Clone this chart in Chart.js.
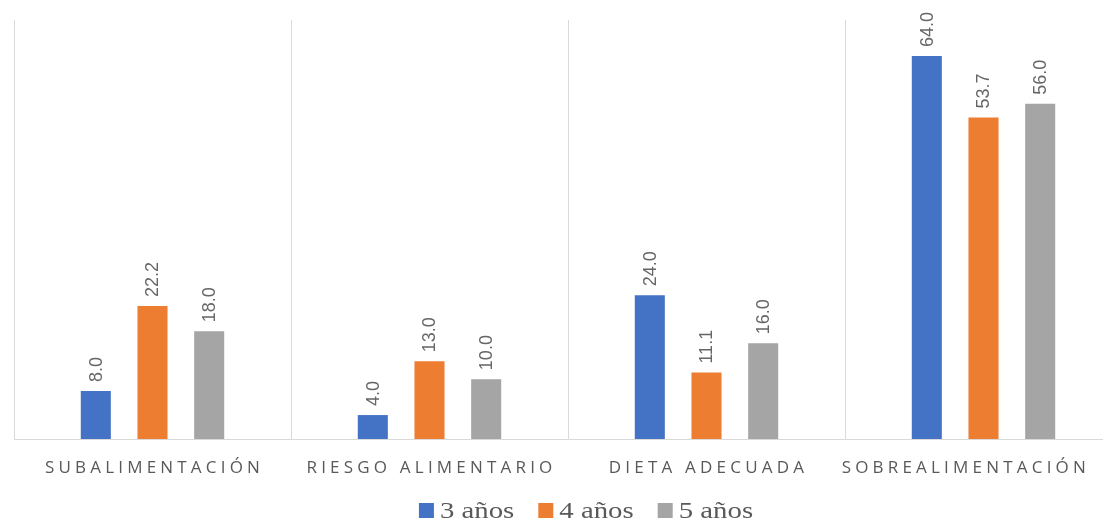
<!DOCTYPE html>
<html>
<head>
<meta charset="utf-8">
<script src="https://cdn.jsdelivr.net/npm/chart.js@4.4.1/dist/chart.umd.min.js"></script>
<style>
  html, body { margin: 0; padding: 0; background: #fff; overflow: hidden; }
  #wrap { width: 1103px; height: 522px; overflow: hidden; }
  #box { width: 1172px; height: 522px; position: relative; }
</style>
</head>
<body>
<div id="wrap"><div id="box"><canvas id="chart"></canvas></div></div>
<script>
const categories = ["SUBALIMENTACIÓN", "RIESGO ALIMENTARIO", "DIETA ADECUADA", "SOBREALIMENTACIÓN"];
const seriesNames = ["3 años", "4 años", "5 años"];
const age3 = [8.0, 4.0, 24.0, 64.0];
const age4 = [22.2, 13.0, 11.1, 53.7];
const age5 = [18.0, 10.0, 16.0, 56.0];
const colors = ["#4472C4", "#ED7D31", "#A5A5A5"];

// rotated value labels above each bar
const valueLabels = {
  id: "valueLabels",
  afterDatasetsDraw(chart) {
    const ctx = chart.ctx;
    ctx.save();
    ctx.font = '18px "Liberation Sans", Arial, sans-serif';
    ctx.fillStyle = "#666666";
    ctx.textAlign = "left";
    ctx.textBaseline = "middle";
    chart.data.datasets.forEach((ds, i) => {
      chart.getDatasetMeta(i).data.forEach((bar, j) => {
        ctx.save();
        ctx.translate(bar.x, bar.y - 9);
        ctx.rotate(-Math.PI / 2);
        ctx.fillText(ds.data[j].toFixed(1), 0, 1);
        ctx.restore();
      });
    });
    ctx.restore();
  }
};

// letter-spaced category labels and the legend underneath
const bottomText = {
  id: "bottomText",
  afterDraw(chart) {
    const ctx = chart.ctx;
    const xs = chart.scales.x;
    ctx.save();
    ctx.font = '17px "Open Sans", sans-serif';
    ctx.letterSpacing = "4.2px";
    ctx.fillStyle = "#595959";
    ctx.textAlign = "left";
    ctx.textBaseline = "middle";
    const maxRight = 1090;
    categories.forEach((c, i) => {
      const w = ctx.measureText(c).width;
      let left = xs.getPixelForValue(i) - w / 2 + 2;
      if (left + w > maxRight) left = maxRight - w;
      ctx.fillText(c, left, chart.chartArea.bottom + 29);
    });
    ctx.letterSpacing = "0px";

    ctx.font = '24px "Liberation Serif", "Times New Roman", serif';
    ctx.textBaseline = "alphabetic";
    const stretch = 1.2;
    const box = 15, gapBox = 6, gapItem = 24;
    const widths = seriesNames.map(n => box + gapBox + ctx.measureText(n).width * stretch);
    const total = widths.reduce((a, b) => a + b, 0) + gapItem * (seriesNames.length - 1);
    let x = chart.width / 2 - total / 2;
    const base = 518;
    seriesNames.forEach((n, i) => {
      ctx.fillStyle = colors[i];
      ctx.fillRect(x, base - 15, box, box);
      ctx.save();
      ctx.translate(x + box + gapBox, base);
      ctx.scale(stretch, 1);
      ctx.fillStyle = "#595959";
      ctx.fillText(n, 0, 0);
      ctx.restore();
      x += widths[i] + gapItem;
    });
    ctx.restore();
  }
};

new Chart(document.getElementById("chart"), {
  type: "bar",
  data: {
    labels: categories,
    datasets: [
      { label: seriesNames[0], data: age3, backgroundColor: colors[0] },
      { label: seriesNames[1], data: age4, backgroundColor: colors[1] },
      { label: seriesNames[2], data: age5, backgroundColor: colors[2] }
    ]
  },
  options: {
    responsive: true,
    maintainAspectRatio: false,
    animation: false,
    layout: { padding: { left: 14, right: 50, top: 20, bottom: 83 } },
    datasets: {
      bar: { categoryPercentage: 0.614, barPercentage: 0.53 }
    },
    scales: {
      x: {
        ticks: { display: false },
        grid: { color: "#d9d9d9", lineWidth: 1, drawTicks: false, offset: true },
        border: { display: true, color: "#d9d9d9", width: 1 }
      },
      y: {
        display: false,
        min: 0,
        max: 70
      }
    },
    plugins: {
      legend: { display: false },
      tooltip: { enabled: false }
    }
  },
  plugins: [valueLabels, bottomText]
});
</script>
</body>
</html>
